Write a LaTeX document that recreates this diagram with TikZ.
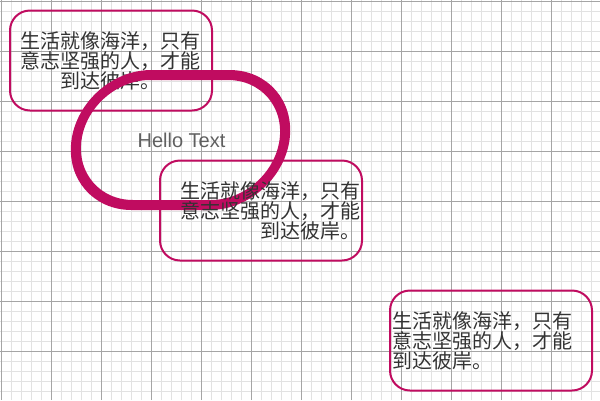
\documentclass[tikz,border=0pt]{standalone}
\usepackage{fontspec}
\setmainfont{Liberation Sans}
\newfontfamily\cjkfont{Noto Sans CJK SC}
\usetikzlibrary{positioning}
\definecolor{berry}{RGB}{192,12,96}
\definecolor{minorgrid}{RGB}{226,226,226}
\definecolor{majorgrid}{RGB}{165,165,165}
\definecolor{inkgray}{RGB}{51,51,51}
\definecolor{hellogray}{RGB}{96,96,96}

\begin{document}
\begin{tikzpicture}[x=1pt, y=-1pt,
	minorline/.style={draw=minorgrid, line width=1pt},
	majorline/.style={draw=majorgrid, line width=1pt},
	card/.style={shape=rectangle, draw=berry, line width=2pt, rounded corners=20pt, minimum width=202pt, minimum height=100pt, text width=198pt, inner sep=2pt, text=inkgray, font=\cjkfont\fontsize{20}{20}\selectfont},
	loopline/.style={draw=berry, line width=10pt, rounded corners=65pt},
	hellotext/.style={text=hellogray, inner sep=0pt, font=\fontsize{20}{24}\selectfont}]
	\useasboundingbox (0,0) rectangle (600,400);
	% Background grid:
	\foreach \gx in {1,11,...,591} \draw[minorline] (\gx,0) -- (\gx,400);
	\foreach \gy in {1,11,...,391} \draw[minorline] (0,\gy) -- (600,\gy);
	\foreach \gx in {1,51,...,551} \draw[majorline] (\gx,0) -- (\gx,400);
	\foreach \gy in {1,51,...,351} \draw[majorline] (0,\gy) -- (600,\gy);
	% Cards and loop:
	\node[card, align=center] (cardA) at (111, 60.5) {生活就像海洋，只有\\意志坚强的人，才能\\到达彼岸。};
	\begin{scope}[transform canvas={shift={(180.5,140)}, xslant=0.14}]
		\draw[loopline] (-104,-65) rectangle (104,65);
	\end{scope}
	\node[hellotext] (hello) at (181.5,140) {Hello Text};
	\node[card, align=right] (cardB) at (261, 210.5) {生活就像海洋，只有\\意志坚强的人，才能\\到达彼岸。};
	\node[card, align=left] (cardC) at (491, 340.5) {生活就像海洋，只有\\意志坚强的人，才能\\到达彼岸。};
\end{tikzpicture}
\end{document}
